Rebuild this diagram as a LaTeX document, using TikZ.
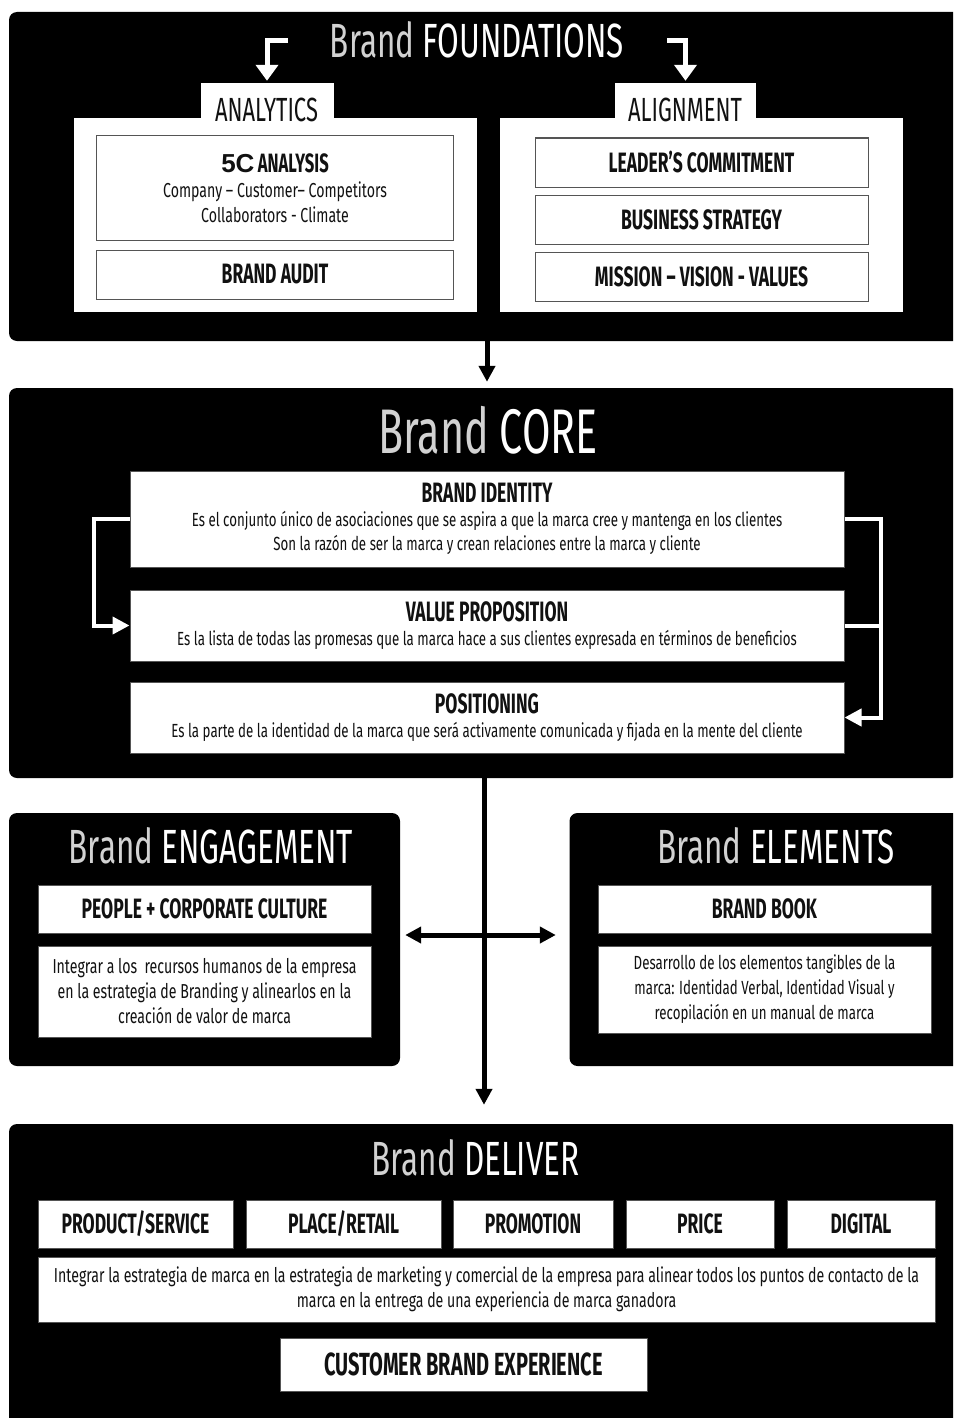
\documentclass[tikz,border=0pt]{standalone}
\usepackage{fontspec}
\setmainfont{Fira Sans}
\newfontfamily\ttlfont{Fira Sans}[FakeStretch=0.655]
\newfontfamily\hdfont{Fira Sans}[FakeStretch=0.625]
\newfontfamily\bdfont{Fira Sans}[FakeStretch=0.70]
\newfontfamily\numfont{Liberation Sans}
\usetikzlibrary{arrows.meta}

\definecolor{brandgray}{HTML}{D2D2D2}
\definecolor{edgegray}{HTML}{555555}
\definecolor{inkblack}{HTML}{111111}

\newcommand\brandw{\textcolor{brandgray}{Brand}}

\tikzset{
  panel/.style={fill=black, draw=none, rounded corners=8pt, inner sep=0pt},
  whitepanel/.style={fill=white, draw=none, inner sep=0pt},
  itembox/.style={fill=white, draw=edgegray, line width=1pt, inner sep=0pt,
    align=center, text=inkblack, font=\bdfont\fontsize{19}{24}\selectfont},
  widebody/.style={font=\bdfont\fontsize{20.2}{25}\selectfont},
  ttl/.style={text=white, inner sep=0pt, font=\ttlfont\fontsize{48}{52}\selectfont},
  tablbl/.style={text=inkblack, inner sep=0pt, font=\ttlfont\fontsize{33.5}{36}\selectfont},
  elbow/.style={draw=white, line width=5pt, -{Triangle[width=22pt,length=16pt]}, shorten >=2pt},
  looparrow/.style={draw=white, line width=4pt, -{Triangle[width=17pt,length=17pt]}},
  loopline/.style={draw=white, line width=4pt},
  blackarrow/.style={draw=black, line width=5pt, -{Triangle[width=16pt,length=16pt]}},
}
\newcommand\hfont{\hdfont\bfseries\fontsize{28}{24}\selectfont}

\begin{document}
\begin{tikzpicture}[x=1pt,y=-1pt]
\useasboundingbox (0,0) rectangle (953,1418);
\clip (0,0) rectangle (953,1418);

% black panels
\node[panel, minimum width=956pt, minimum height=329pt] (found) at (487,176.5) {};
\node[panel, minimum width=950pt, minimum height=390pt] (core) at (484,583) {};
\node[panel, minimum width=391pt, minimum height=253pt] (engage) at (204.5,939.5) {};
\node[panel, minimum width=396pt, minimum height=253pt] (elems) at (767.5,939.5) {};
\node[panel, minimum width=950pt, minimum height=310pt] (deliver) at (484,1279) {};

% ---------- Brand FOUNDATIONS ----------
\node[ttl, anchor=base] (foundT) at (477,58) {\brandw{} FOUNDATIONS};

\node[whitepanel, minimum width=133pt, minimum height=40pt] (anaTab) at (267,103) {};
\node[whitepanel, minimum width=403pt, minimum height=194pt] (anaPanel) at (275,215) {};
\node[tablbl, anchor=base] (anaLbl) at (266.5,122) {ANALYTICS};

\node[whitepanel, minimum width=141pt, minimum height=40pt] (aliTab) at (685.5,103) {};
\node[whitepanel, minimum width=403pt, minimum height=194pt] (aliPanel) at (701.5,215) {};
\node[tablbl, anchor=base] (aliLbl) at (685,122) {ALIGNMENT};

\coordinate (la) at (288,41);
\coordinate (ra) at (667,41);
\draw[elbow] (la) -| (anaTab.north);
\draw[elbow] (ra) -| (aliTab.north);

\node[itembox, widebody, minimum width=357pt, minimum height=104pt] (fiveC) at (275,188)
  {{\numfont\bfseries\fontsize{26}{24}\selectfont 5C}\,{\hdfont\bfseries\fontsize{26.5}{24}\selectfont ANALYSIS}\\
   Company – Customer– Competitors\\ Collaborators - Climate};
\node[itembox, minimum width=357pt, minimum height=49pt] (audit) at (275,274.5) {\hfont BRAND AUDIT};

\node[itembox, minimum width=333pt, minimum height=49pt] (leader) at (701.5,162.5) {\hfont LEADER’S COMMITMENT};
\node[itembox, minimum width=333pt, minimum height=49pt] (strategy) at (701.5,219.5) {\hfont BUSINESS STRATEGY};
\node[itembox, minimum width=333pt, minimum height=49pt] (mission) at (701.5,277) {\hfont MISSION – VISION - VALUES};

\draw[blackarrow] (found.south) -- (found.south |- core.north) [shorten >=6pt];

% ---------- Brand CORE ----------
\node[ttl, anchor=base, font=\ttlfont\fontsize{63}{66}\selectfont] (coreT) at (488,453) {\brandw{} CORE};

\node[itembox, minimum width=714pt, minimum height=96pt] (ident) at (487,519)
  {{\hfont BRAND IDENTITY}\\
   Es el conjunto único de asociaciones que se aspira a que la marca cree y mantenga en los clientes\\
   Son la razón de ser la marca y crean relaciones entre la marca y cliente};
\node[itembox, minimum width=714pt, minimum height=71pt] (valprop) at (487,625.5)
  {{\hfont VALUE PROPOSITION}\\
   Es la lista de todas las promesas que la marca hace a sus clientes expresada en términos de beneficios};
\node[itembox, minimum width=714pt, minimum height=71pt] (posit) at (487,717.5)
  {{\hfont POSITIONING}\\
   Es la parte de la identidad de la marca que será activamente comunicada y fijada en la mente del cliente};

\draw[looparrow] (ident.west) -- ++(-36,0) |- (valprop.west);
\draw[looparrow] (ident.east) -- ++(36,0) |- (posit.east);
\draw[loopline] (valprop.east) -- ++(36,0);

\draw[blackarrow] (core.south) -- (deliver.north) [shorten >=19pt];

% ---------- Brand ENGAGEMENT / ELEMENTS ----------
\node[ttl, anchor=base] (engT) at (211,863) {\brandw{} ENGAGEMENT};
\node[itembox, minimum width=333pt, minimum height=48pt] (people) at (204.5,909) {\hfont PEOPLE + CORPORATE CULTURE};
\node[itembox, widebody, minimum width=333pt, minimum height=91pt] (engtext) at (204.5,991.5)
  {Integrar a los \ recursos humanos de la empresa\\ en la estrategia de Branding y alinearlos en la\\ creación de valor de marca};

\node[ttl, anchor=base] (elemT) at (776,863) {\brandw{} ELEMENTS};
\node[itembox, minimum width=333pt, minimum height=48pt] (book) at (764.5,909) {\hfont BRAND BOOK};
\node[itembox, minimum width=333pt, minimum height=87pt, font=\bdfont\fontsize{19}{25}\selectfont] (elemtext) at (764.5,989.5)
  {Desarrollo de los elementos tangibles de la\\ marca: Identidad Verbal, Identidad Visual y\\ recopilación en un manual de marca};

\draw[blackarrow, {Triangle[width=16pt,length=16pt]}-{Triangle[width=16pt,length=16pt]}]
  (engage.east |- 0,935) -- (elems.west |- 0,935) [shorten <=5pt, shorten >=13.5pt];

% ---------- Brand DELIVER ----------
\node[ttl, anchor=base, font=\ttlfont\fontsize{48}{52}\selectfont] (delT) at (475.5,1175) {\brandw{} DELIVER};
\node[itembox, minimum width=195pt, minimum height=48pt] (product) at (135.5,1224) {\hfont PRODUCT/SERVICE};
\node[itembox, minimum width=195pt, minimum height=48pt] (place) at (343.5,1224) {\hfont PLACE/RETAIL};
\node[itembox, minimum width=160pt, minimum height=48pt] (promo) at (533,1224) {\hfont PROMOTION};
\node[itembox, minimum width=148pt, minimum height=48pt] (price) at (700,1224) {\hfont PRICE};
\node[itembox, minimum width=148pt, minimum height=48pt] (digital) at (861,1224) {\hfont DIGITAL};
\node[itembox, widebody, minimum width=897pt, minimum height=65pt] (deltext) at (486.5,1289.5)
  {Integrar la estrategia de marca en la estrategia de marketing y comercial de la empresa para alinear todos los puntos de contacto de la\\
   marca en la entrega de una experiencia de marca ganadora};
\node[itembox, minimum width=367pt, minimum height=53pt] (cbe) at (463.5,1364.5)
  {\hdfont\bfseries\fontsize{32}{30}\selectfont CUSTOMER BRAND EXPERIENCE};
\end{tikzpicture}
\end{document}
